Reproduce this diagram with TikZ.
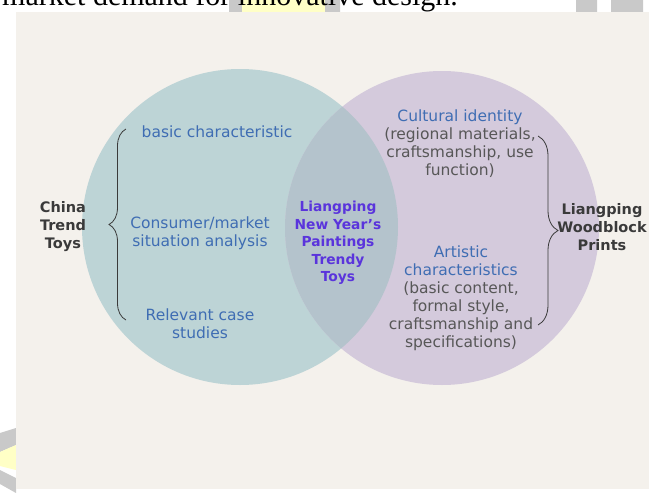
\documentclass[tikz,border=0pt]{standalone}
\usepackage{fontspec}
\setsansfont{DejaVu Sans}
\newfontfamily\pagefont{Liberation Serif}
\usetikzlibrary{decorations.pathreplacing}
\definecolor{panelbg}{HTML}{F4F1EC}
\definecolor{trendfill}{HTML}{BDD4D6}
\definecolor{printfill}{HTML}{D4CADC}
\definecolor{lensfill}{HTML}{B4C3CC}
\definecolor{itemblue}{HTML}{3F6DB3}
\definecolor{notegrey}{HTML}{575757}
\definecolor{labelgrey}{HTML}{3A3A3A}
\definecolor{corepurple}{HTML}{5A34DC}
\definecolor{markgrey}{HTML}{C9C9C9}
\definecolor{markyellow}{HTML}{FFFFC6}

\begin{document}
\begin{tikzpicture}[
  x=1pt, y=-1pt,
  item/.style={font=\sffamily\fontsize{15.5}{18}\selectfont, text=itemblue, align=center, inner sep=0pt},
  note/.style={item, text=notegrey},
  setlabel/.style={font=\sffamily\bfseries\fontsize{14.5}{18}\selectfont, text=labelgrey, align=center, inner sep=0pt},
  core/.style={font=\sffamily\bfseries\fontsize{13.8}{17.5}\selectfont, text=corepurple, align=center, inner sep=0pt},
  bracepen/.style={draw=labelgrey, line width=0.8pt, decorate},
]
\useasboundingbox (0,0) rectangle (649,493);
\fill[white] (0,0) rectangle (649,493);
% page behind the figure
\fill[markgrey] (229,0) rectangle (242,12) (325,0) rectangle (340,12)
  (576,0) rectangle (597,12) (611,0) rectangle (643,12);
\fill[markyellow] (242,0) rectangle (325,12);
\node[anchor=base west, font=\pagefont\fontsize{30}{30}\selectfont, inner sep=0pt] (pageline) at (2,5.5) {market demand for innovative design.};
\fill[markgrey] (0,433) -- (16,428) -- (16,445) -- (0,452) -- cycle;
\fill[markyellow] (0,452) -- (16,445) -- (16,470) -- (0,466) -- cycle;
\fill[markgrey] (0,470) -- (16,478) -- (16,493) -- (0,484) -- cycle;
% figure panel
\fill[panelbg] (16,12) rectangle (649,489);
\fill[trendfill] (240,227) circle[radius=158];
\fill[printfill] (442,228) circle[radius=157];
\begin{scope}
  \clip (240,227) circle[radius=158];
  \fill[lensfill] (442,228) circle[radius=157];
\end{scope}

% set labels
\node[setlabel] (trend) at (63,227) {China\\Trend\\Toys};
\node[setlabel] (prints) at (602,227) {Liangping\\Woodblock\\Prints};
\node[core] (both) at (338,243) {Liangping\\New Year\symbol{39}s\\Paintings\\Trendy\\Toys};

% left items
\node[item] (basic) at (217,132) {basic characteristic};
\node[item] (market) at (200,233) {Consumer/market\\situation analysis};
\node[item] (cases) at (200,324) {Relevant case\\studies};

% right items
\node[note] (identity) at (460,144) {\textcolor{itemblue}{Cultural identity}\\(regional materials,\\craftsmanship, use\\function)};
\node[note] (artistic) at (461,298) {\textcolor{itemblue}{Artistic}\\\textcolor{itemblue}{characteristics}\\(basic content,\\formal style,\\craftsmanship and\\specifications)};

% braces
\coordinate (ltop) at (126,129);
\coordinate (lbot) at (126,320);
\coordinate (rtop) at (538,136);
\coordinate (rbot) at (538,325);
\draw[bracepen, decoration={brace, amplitude=17pt}] (lbot) -- (ltop);
\draw[bracepen, decoration={brace, amplitude=20pt}] (rtop) -- (rbot);
\end{tikzpicture}
\end{document}
